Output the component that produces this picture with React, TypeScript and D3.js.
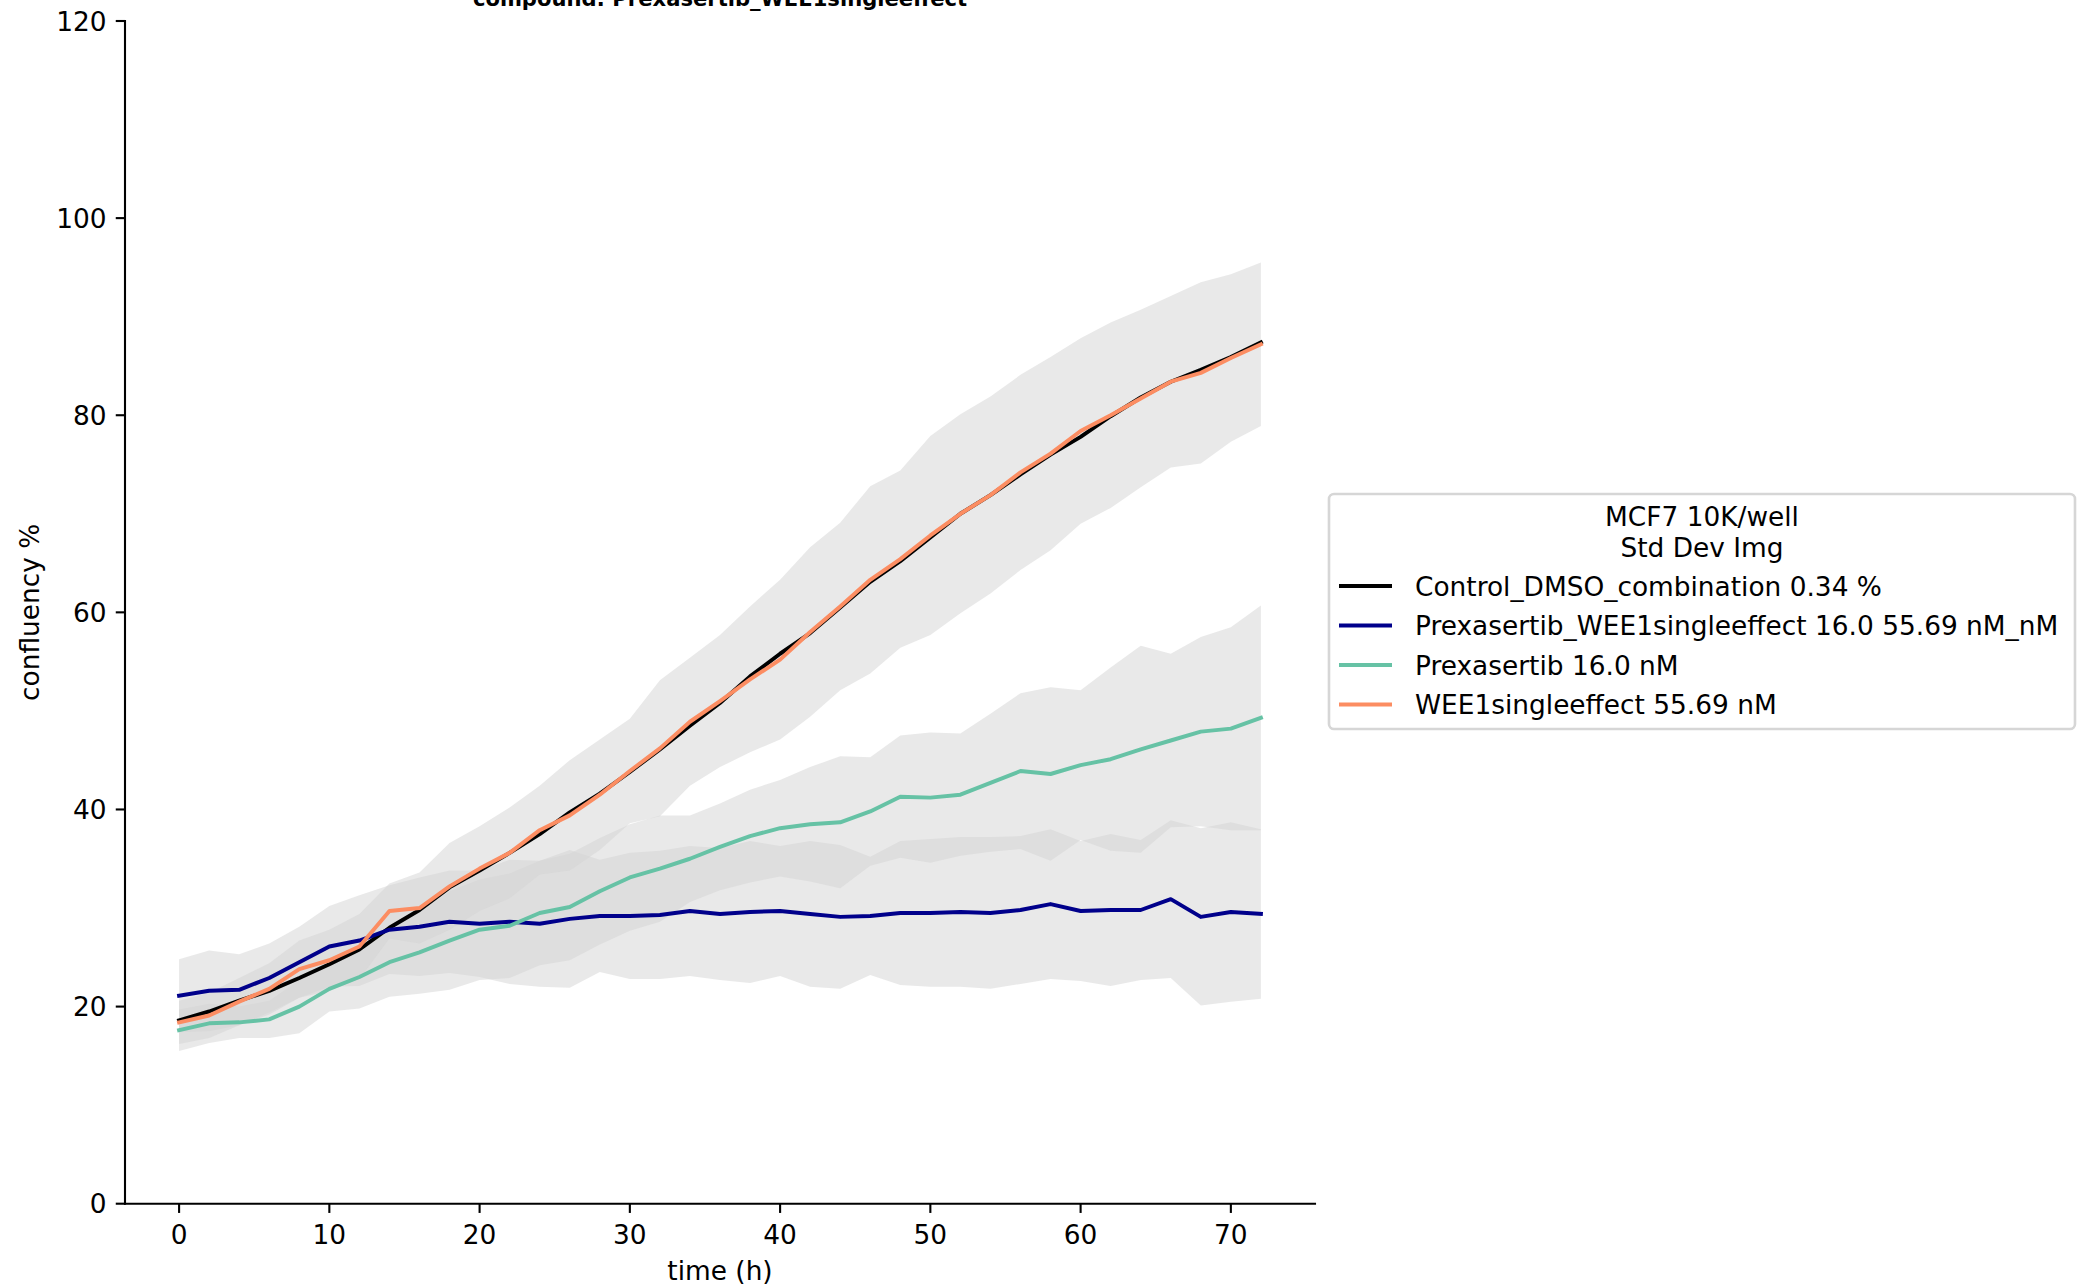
import React from "react";
import * as d3 from "d3";

const timeH = [0, 2, 4, 6, 8, 10, 12, 14, 16, 18, 20, 22, 24, 26, 28, 30, 32, 34, 36, 38, 40, 42, 44, 46, 48, 50, 52, 54, 56, 58, 60, 62, 64, 66, 68, 70, 72];

const controlMean = [18.6, 19.5, 20.6, 21.6, 22.9, 24.3, 25.8, 28.0, 29.8, 32.1, 33.8, 35.6, 37.5, 39.7, 41.6, 43.8, 46.1, 48.5, 50.8, 53.5, 55.8, 57.9, 60.5, 63.1, 65.2, 67.6, 70.0, 71.9, 74.0, 76.0, 77.8, 79.9, 81.8, 83.4, 84.6, 85.9, 87.4];

const comboMean = [21.1, 21.6, 21.7, 22.9, 24.5, 26.1, 26.7, 27.8, 28.1, 28.6, 28.4, 28.6, 28.4, 28.9, 29.2, 29.2, 29.3, 29.7, 29.4, 29.6, 29.7, 29.4, 29.1, 29.2, 29.5, 29.5, 29.6, 29.5, 29.8, 30.4, 29.7, 29.8, 29.8, 30.9, 29.1, 29.6, 29.4];
const comboSd = [3.7, 4.1, 3.6, 3.5, 3.6, 4.1, 4.6, 4.5, 5.0, 5.2, 5.4, 6.3, 6.4, 7.0, 5.7, 6.4, 6.5, 6.6, 6.7, 7.2, 6.6, 7.4, 7.3, 6.0, 7.3, 7.5, 7.6, 7.7, 7.5, 7.6, 7.1, 7.7, 7.1, 8.0, 9.0, 9.1, 8.6];

const prexMean = [17.6, 18.3, 18.4, 18.7, 20.0, 21.8, 23.0, 24.5, 25.5, 26.7, 27.8, 28.2, 29.5, 30.1, 31.7, 33.1, 34.0, 35.0, 36.2, 37.3, 38.1, 38.5, 38.7, 39.8, 41.3, 41.2, 41.5, 42.7, 43.9, 43.6, 44.5, 45.1, 46.1, 47.0, 47.9, 48.2, 49.3];
const prexSd = [2.1, 2.0, 1.6, 1.9, 2.7, 2.3, 3.2, 3.5, 4.2, 5.0, 5.1, 5.3, 5.3, 5.4, 5.4, 5.4, 5.4, 4.4, 4.4, 4.7, 4.9, 5.8, 6.7, 5.5, 6.2, 6.6, 6.2, 7.0, 7.9, 8.8, 7.6, 9.3, 10.5, 8.8, 9.6, 10.3, 11.4];

const wee1Mean = [18.4, 19.1, 20.5, 21.8, 23.8, 24.7, 26.1, 29.7, 30.0, 32.2, 34.0, 35.6, 37.9, 39.4, 41.5, 43.9, 46.2, 48.9, 51.0, 53.2, 55.2, 58.0, 60.6, 63.3, 65.4, 67.8, 70.0, 71.9, 74.2, 76.1, 78.4, 80.0, 81.7, 83.4, 84.3, 85.8, 87.2];
const wee1Sd = [2.2, 2.3, 2.4, 2.6, 2.9, 3.1, 3.3, 2.8, 3.6, 4.4, 4.3, 4.6, 4.5, 5.6, 5.6, 5.3, 6.9, 6.5, 6.7, 7.4, 8.1, 8.6, 8.5, 9.5, 9.0, 10.1, 10.1, 10.0, 9.9, 9.8, 9.4, 9.4, 9.0, 8.7, 9.2, 8.5, 8.3];

const seriesLabels = [
  "Control_DMSO_combination 0.34 %",
  "Prexasertib_WEE1singleeffect 16.0 55.69 nM_nM",
  "Prexasertib 16.0 nM",
  "WEE1singleeffect 55.69 nM",
];
const seriesColors = ["#000000", "#00008b", "#66c2a5", "#fc8d62"];

const xTicks = [0, 10, 20, 30, 40, 50, 60, 70];
const yTicks = [0, 20, 40, 60, 80, 100, 120];

const titleText = "compound: Prexasertib_WEE1singleeffect";
const legendTitle = ["MCF7 10K/well", "Std Dev Img"];
const xLabel = "time (h)";
const yLabel = "confluency %";

const W = 2079;
const H = 1285;
const FONT = "DejaVu Sans, sans-serif";
const FS = 26.4;

export default function App() {
  const x = d3.scaleLinear().domain([-3.6, 75.6]).range([125, 1315]);
  const y = d3.scaleLinear().domain([0, 120]).range([1203.7, 21]);

  const means = [controlMean, comboMean, prexMean, wee1Mean];
  const bands = [
    { mean: comboMean, sd: comboSd },
    { mean: prexMean, sd: prexSd },
    { mean: wee1Mean, sd: wee1Sd },
  ];

  const bandPath = (mean: number[], sd: number[]) =>
    d3
      .area<number>()
      .x((_, i) => x(timeH[i]))
      .y0((d, i) => y(d - sd[i]))
      .y1((d, i) => y(d + sd[i]))(mean) || "";

  const line = d3
    .line<number>()
    .x((_, i) => x(timeH[i]))
    .y((d) => y(d));

  const tickLen = 9.24;
  const pad = 9.24;

  const legX = 1329;
  const legY = 494;
  const legW = 746;
  const legH = 235;
  const entryY = [586, 625.5, 665, 704.5];

  return (
    <svg
      width={W}
      height={H}
      style={{ position: "absolute", left: 0, top: 0, background: "#fff" }}
      fontFamily={FONT}
    >
      <rect x={0} y={0} width={W} height={H} fill="#ffffff" />
      {bands.map((b, i) => (
        <path key={"b" + i} d={bandPath(b.mean, b.sd)} fill="#d3d3d3" fillOpacity={0.5} stroke="none" />
      ))}
      {means.map((m, i) => (
        <path
          key={"l" + i}
          d={line(m) || ""}
          fill="none"
          stroke={seriesColors[i]}
          strokeWidth={3.96}
          strokeLinejoin="round"
          strokeLinecap="square"
        />
      ))}

      <line x1={125} x2={125} y1={y(120)} y2={y(0)} stroke="#000" strokeWidth={2.1} strokeLinecap="square" />
      <line x1={125} x2={1315} y1={y(0)} y2={y(0)} stroke="#000" strokeWidth={2.1} strokeLinecap="square" />

      {xTicks.map((t) => (
        <g key={"xt" + t}>
          <line x1={x(t)} x2={x(t)} y1={y(0)} y2={y(0) + tickLen} stroke="#000" strokeWidth={2.1} />
          <text x={x(t)} y={1243.5} fontSize={FS} textAnchor="middle" fill="#000">
            {t}
          </text>
        </g>
      ))}
      {yTicks.map((t) => (
        <g key={"yt" + t}>
          <line x1={125 - tickLen} x2={125} y1={y(t)} y2={y(t)} stroke="#000" strokeWidth={2.1} />
          <text x={125 - tickLen - pad} y={y(t) + 9.6} fontSize={FS} textAnchor="end" fill="#000">
            {t}
          </text>
        </g>
      ))}

      <text x={720} y={1279.5} fontSize={FS} textAnchor="middle" fill="#000">
        {xLabel}
      </text>
      <text
        transform={`translate(38.5, ${(y(0) + y(120)) / 2}) rotate(-90)`}
        fontSize={FS}
        textAnchor="middle"
        fill="#000"
      >
        {yLabel}
      </text>

      <text x={720} y={6} fontSize={21.1} fontWeight="bold" textAnchor="middle" fill="#000">
        {titleText}
      </text>

      <rect
        x={legX}
        y={legY}
        width={legW}
        height={legH}
        rx={5}
        ry={5}
        fill="#ffffff"
        fillOpacity={0.8}
        stroke="#cccccc"
        strokeOpacity={0.8}
        strokeWidth={2.6}
      />
      {legendTitle.map((s, i) => (
        <text key={"lt" + i} x={legX + legW / 2} y={526 + i * 30.5} fontSize={FS} textAnchor="middle" fill="#000">
          {s}
        </text>
      ))}
      {seriesLabels.map((s, i) => (
        <g key={"le" + i}>
          <line x1={1339} x2={1392} y1={entryY[i]} y2={entryY[i]} stroke={seriesColors[i]} strokeWidth={3.96} />
          <text x={1415} y={entryY[i] + 9.6} fontSize={FS} fill="#000">
            {s}
          </text>
        </g>
      ))}
    </svg>
  );
}
